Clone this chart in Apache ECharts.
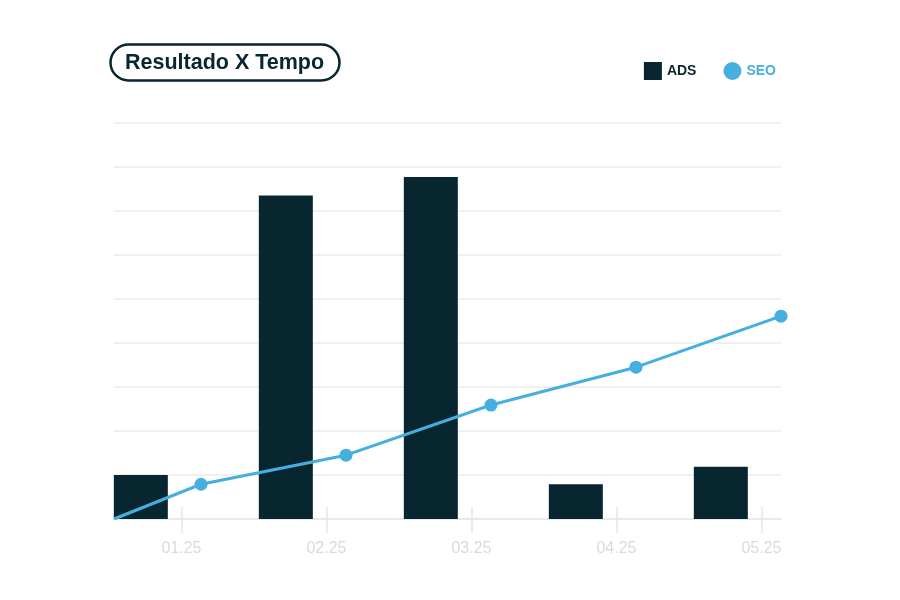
<!DOCTYPE html>
<html style="height: 100%">
<head>
   <meta charset="utf-8">
</head>
<style>
    body, html, #chart {
        margin: 0;
        width: 100%;
        height: 100%;
        background: #fff;
    }
</style>
<title>Resultado X Tempo</title>
<script src="https://cdn.jsdelivr.net/npm/echarts@6/dist/echarts.min.js"></script>
<body>
   <div id="chart"></div>
   <script type="text/javascript">
    // dados
    var meses = ['01.25', '02.25', '03.25', '04.25', '05.25'];
    var ads = [100, 735, 777, 79, 119];
    var seo = [79, 145, 259, 345, 461];
    var seoInicio = 0;

    // deslocamento de cada marca dentro do mês (unidades do eixo x)
    var offBarra = 0.185, offLabel = 0.465, offPonto = 0.6;

    var escuro = '#08262f';
    var azul = '#45b0e0';
    var fonte = 'Liberation Sans';

    var barData = ads.map(function (v, i) { return [i + offBarra, v]; });
    var lineData = [{ value: [0, seoInicio], symbol: 'none' }].concat(
        seo.map(function (v, i) { return [i + offPonto, v]; }));
    var labelPos = meses.map(function (m, i) { return i + offLabel; });

    var myChart = echarts.init(document.getElementById('chart'));
    var option = {
        backgroundColor: '#fff',
        title: {
            text: 'Resultado X Tempo',
            left: 110,
            top: 44,
            padding: [7, 16, 6, 15],
            borderColor: escuro,
            borderWidth: 2.5,
            borderRadius: 19,
            textStyle: {
                color: escuro,
                fontFamily: fonte,
                fontWeight: 'bold',
                fontSize: 21.5,
                lineHeight: 24
            }
        },
        legend: {
            right: 119,
            top: 57,
            itemWidth: 18,
            itemHeight: 18,
            itemGap: 27,
            textStyle: { fontFamily: fonte, fontWeight: 'bold', fontSize: 14 },
            data: [
                { name: 'ADS', icon: 'rect', textStyle: { color: escuro } },
                { name: 'SEO', icon: 'circle', textStyle: { color: azul } }
            ]
        },
        grid: { left: 114, right: 119, top: 123, bottom: 81 },
        xAxis: [{
            type: 'value',
            min: 0,
            max: 4.6,
            splitLine: { show: false },
            axisLine: { show: true, lineStyle: { color: '#e6e6e6', width: 1.5 } },
            axisTick: {
                show: true,
                customValues: labelPos,
                length: 14,
                lineStyle: { color: '#e6e6e6', width: 1.5 }
            },
            axisLabel: {
                customValues: labelPos,
                margin: 22,
                color: '#dadada',
                fontFamily: fonte,
                fontSize: 16,
                formatter: function (v) { return meses[Math.round(v - offLabel)]; }
            }
        }, {
            type: 'value',
            position: 'bottom',
            min: 0,
            max: 4.6,
            splitLine: { show: false },
            axisLine: { show: false },
            axisLabel: { show: false },
            axisTick: {
                show: true,
                inside: true,
                customValues: labelPos,
                length: 12,
                lineStyle: { color: '#e6e6e6', width: 1.5 }
            }
        }],
        yAxis: {
            type: 'value',
            min: 0,
            max: 900,
            interval: 100,
            axisLine: { show: false },
            axisTick: { show: false },
            axisLabel: { show: false },
            splitLine: { lineStyle: { color: '#ebebeb', width: 1.5 } }
        },
        series: [{
            name: 'ADS',
            type: 'bar',
            barWidth: 54,
            clip: false,
            itemStyle: { color: escuro },
            data: barData
        }, {
            name: 'SEO',
            type: 'line',
            z: 5,
            clip: false,
            symbol: 'circle',
            symbolSize: 13,
            showSymbol: true,
            lineStyle: { color: azul, width: 3 },
            itemStyle: { color: azul },
            data: lineData
        }]
    };
    myChart.setOption(option);
    </script>
</body>
</html>
